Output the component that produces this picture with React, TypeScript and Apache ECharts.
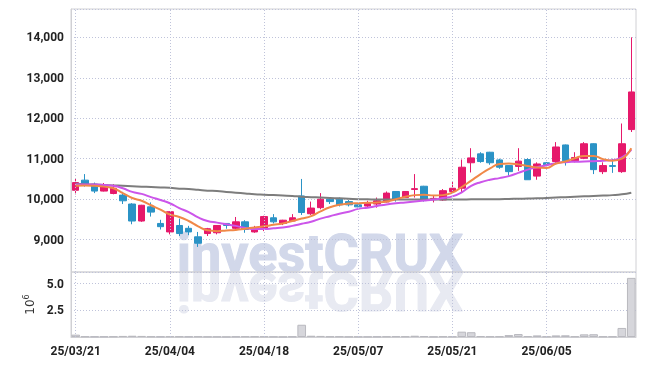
import React, { useEffect, useRef } from 'react';
import * as echarts from 'echarts';

const dates = [
  '25/03/21', '25/03/24', '25/03/25', '25/03/26', '25/03/27', '25/03/28', '25/03/31', '25/04/01', '25/04/02', '25/04/03',
  '25/04/04', '25/04/07', '25/04/08', '25/04/09', '25/04/10', '25/04/11', '25/04/14', '25/04/15', '25/04/16', '25/04/17',
  '25/04/18', '25/04/21', '25/04/22', '25/04/23', '25/04/24', '25/04/25', '25/04/28', '25/04/29', '25/04/30', '25/05/02',
  '25/05/07', '25/05/08', '25/05/09', '25/05/12', '25/05/13', '25/05/14', '25/05/15', '25/05/16', '25/05/19', '25/05/20',
  '25/05/21', '25/05/22', '25/05/23', '25/05/26', '25/05/27', '25/05/28', '25/05/29', '25/05/30', '25/06/02', '25/06/04',
  '25/06/05', '25/06/09', '25/06/10', '25/06/11', '25/06/12', '25/06/13', '25/06/16', '25/06/17', '25/06/18', '25/06/19',
];

const opens = [
  10220, 10470, 10370, 10200, 10140, 10100, 9880, 9460, 9810, 9400,
  9190, 9350, 9280, 9070, 9150, 9170, 9400, 9280, 9440, 9190,
  9270, 9540, 9400, 9460, 10080, 9640, 9790, 10000, 10000, 9940,
  9860, 9830, 9880, 9930, 10190, 10040, 10240, 10320, 10010, 9980,
  10190, 10270, 10900, 11120, 11160, 10970, 10830, 10810, 10980, 10570,
  10900, 10930, 11340, 10950, 11010, 11370, 10680, 10830, 10680, 11720,
];
const closes = [
  10410, 10370, 10200, 10350, 10270, 9960, 9460, 9850, 9680, 9320,
  9690, 9150, 9190, 8910, 9270, 9350, 9350, 9440, 9250, 9300,
  9570, 9440, 9480, 9540, 9670, 9780, 10000, 9940, 9860, 9860,
  9810, 9900, 9960, 10150, 10000, 10190, 10260, 10000, 10020, 10210,
  10270, 10790, 11020, 10930, 10900, 10790, 10680, 10940, 10480, 10870,
  10850, 11290, 10950, 11030, 11370, 10730, 10830, 10810, 11370, 12650,
];
const lows = [
  10120, 10310, 10150, 10190, 10120, 9880, 9380, 9440, 9570, 9250,
  9130, 9090, 9110, 8820, 9090, 9130, 9270, 9250, 9170, 9170,
  9210, 9400, 9360, 9440, 9610, 9610, 9750, 9880, 9820, 9820,
  9800, 9790, 9790, 9920, 9940, 10030, 10040, 9940, 9920, 9960,
  10170, 10170, 10660, 10900, 10850, 10750, 10580, 10700, 10480, 10480,
  10820, 10870, 10830, 10910, 10990, 10620, 10620, 10650, 10650, 11660,
];
const highs = [
  10500, 10620, 10410, 10400, 10370, 10180, 9900, 9860, 9920, 9490,
  9700, 9520, 9340, 9190, 9290, 9360, 9410, 9560, 9480, 9340,
  9590, 9630, 9490, 9630, 10500, 9940, 10150, 10010, 10040, 9980,
  9870, 9960, 10040, 10190, 10200, 10200, 10620, 10330, 10080, 10250,
  10430, 10980, 11260, 11160, 11170, 11000, 10840, 11260, 11010, 10910,
  10920, 11410, 11350, 11160, 11410, 11380, 10910, 11000, 11870, 14000,
];
const volumes = [
  220000, 50000, 40000, 40000, 50000, 100000, 120000, 100000, 50000, 40000,
  60000, 50000, 40000, 50000, 30000, 30000, 20000, 40000, 50000, 50000,
  50000, 30000, 20000, 40000, 1150000, 120000, 100000, 50000, 50000, 30000,
  30000, 30000, 40000, 50000, 70000, 60000, 120000, 80000, 30000, 60000,
  50000, 500000, 450000, 80000, 50000, 60000, 180000, 280000, 80000, 150000,
  50000, 150000, 160000, 60000, 250000, 260000, 50000, 50000, 850000, 5550000,
];
const maShort = [
  10330, 10340, 10330, 10310, 10270, 10150, 10030, 9960, 9850, 9740,
  9620, 9560, 9460, 9330, 9230, 9210, 9225, 9240, 9270, 9300,
  9330, 9365, 9400, 9460, 9520, 9580, 9700, 9800, 9860, 9890,
  9900, 9910, 9920, 9940, 10000, 10060, 10100, 10110, 10090, 10100,
  10160, 10300, 10460, 10620, 10760, 10870, 10880, 10860, 10820, 10780,
  10770, 10880, 10930, 11010, 11070, 11070, 10990, 10950, 11000, 11260,
];
const maMid = [
  10360, 10360, 10360, 10350, 10330, 10270, 10180, 10130, 10050, 9980,
  9900, 9780, 9680, 9550, 9460, 9420, 9380, 9340, 9290, 9260,
  9260, 9280, 9300, 9340, 9390, 9440, 9520, 9580, 9640, 9690,
  9760, 9790, 9830, 9870, 9900, 9920, 9945, 9965, 9990, 10030,
  10070, 10170, 10330, 10420, 10480, 10520, 10570, 10650, 10730, 10790,
  10840, 10890, 10915, 10925, 10930, 10940, 10950, 10965, 11030, 11220,
];
const maLong = [
  10380, 10370, 10360, 10350, 10340, 10330, 10320, 10310, 10300, 10290,
  10280, 10260, 10250, 10230, 10210, 10200, 10180, 10160, 10140, 10120,
  10110, 10100, 10090, 10080, 10060, 10050, 10040, 10030, 10020, 10010,
  10000, 9995, 9990, 9990, 9990, 9990, 9990, 9990, 9990, 9990,
  9990, 9990, 9995, 9995, 10000, 10000, 10005, 10010, 10015, 10020,
  10030, 10040, 10050, 10060, 10070, 10080, 10090, 10100, 10120, 10160,
];

const UP = '#e6196b';
const DOWN = '#2b93c6';
const GRID_DOT = { type: [1, 2] as number[], color: '#bfc3da', width: 1 };
const BORDER = '#d0d0d4';
const LABEL = { color: '#222222', fontFamily: 'Roboto', fontSize: 12, fontWeight: 'bold' as const };
const WM_FONT = 'bold 54px Roboto';

export default function App() {
  const ref = useRef<HTMLDivElement>(null);
  useEffect(() => {
    if (!ref.current) return;
    const chart = echarts.init(ref.current, undefined, { renderer: 'svg' });
    const candles = dates.map((_, i) => [opens[i], closes[i], lows[i], highs[i]]);
    const vLines = dates.filter((_, i) => i % 10 === 0).map((d) => ({ xAxis: d }));
    const markLine = {
      silent: true,
      symbol: ['none', 'none'],
      label: { show: false },
      lineStyle: { ...GRID_DOT },
      data: vLines,
    };
    const maLine = (name: string, data: number[], color: string) => ({
      name,
      type: 'line',
      xAxisIndex: 0,
      yAxisIndex: 0,
      data,
      smooth: true,
      showSymbol: false,
      symbol: 'none',
      lineStyle: { color, width: 2 },
      z: 3,
    });
    chart.setOption({
      animation: false,
      graphic: [
        {
          type: 'text',
          x: 320,
          y: 253,
          z: -10,
          silent: true,
          style: {
            text: 'investCRUX',
            font: WM_FONT,
            fill: '#d2d8ea',
            stroke: '#d2d8ea',
            lineWidth: 1,
            textAlign: 'center',
            textVerticalAlign: 'middle',
          },
        },
        {
          type: 'group',
          x: 320,
          y: 272,
          scaleY: -1,
          z: -10,
          silent: true,
          children: [
            {
              type: 'text',
              x: 0,
              y: -19,
              z: -10,
              style: {
                text: 'investCRUX',
                font: WM_FONT,
                fill: '#e8eaf2',
                stroke: '#e8eaf2',
                lineWidth: 1,
                textAlign: 'center',
                textVerticalAlign: 'middle',
              },
            },
          ],
        },
      ],
      grid: [
        { left: 71, right: 9, top: 9, height: 263, show: true, borderColor: BORDER, borderWidth: 1 },
        { left: 71, right: 9, top: 272, height: 65, show: true, borderColor: BORDER, borderWidth: 1 },
      ],
      xAxis: [
        {
          type: 'category',
          gridIndex: 0,
          data: dates,
          boundaryGap: true,
          axisLine: { show: false },
          axisTick: { show: false },
          axisLabel: { show: false },
          splitLine: { show: false },
        },
        {
          type: 'category',
          gridIndex: 1,
          data: dates,
          boundaryGap: true,
          axisLine: { show: true, lineStyle: { color: BORDER } },
          axisTick: { show: false },
          axisLabel: { ...LABEL, interval: 9, margin: 8 },
          splitLine: { show: false },
        },
      ],
      yAxis: [
        {
          type: 'value',
          gridIndex: 0,
          min: 8200,
          max: 14700,
          splitNumber: 6,
          axisLine: { show: true, lineStyle: { color: BORDER } },
          axisTick: { show: false },
          axisLabel: {
            ...LABEL,
            showMinLabel: false,
            showMaxLabel: false,
            margin: 7,
            formatter: (v: number) => v.toLocaleString('en-US'),
          },
          splitLine: { show: true, lineStyle: { ...GRID_DOT } },
        },
        {
          type: 'value',
          gridIndex: 1,
          min: 0,
          max: 6100000,
          interval: 2500000,
          name: '10{s|6}',
          nameLocation: 'middle',
          nameRotate: 90,
          nameGap: 30,
          nameTextStyle: {
            color: '#333',
            fontFamily: 'DejaVu Sans',
            fontSize: 12,
            rich: { s: { fontSize: 8, verticalAlign: 'top', fontFamily: 'DejaVu Sans', color: '#333', padding: [0, 0, 6, 0] } },
          },
          axisLine: { show: true, lineStyle: { color: BORDER } },
          axisTick: { show: false },
          axisLabel: {
            ...LABEL,
            showMinLabel: false,
            showMaxLabel: false,
            margin: 7,
            formatter: (v: number) => (v / 1000000).toFixed(1),
          },
          splitLine: { show: true, lineStyle: { ...GRID_DOT } },
        },
      ],
      series: [
        { type: 'line', xAxisIndex: 0, yAxisIndex: 0, data: [], z: 1, markLine },
        { type: 'line', xAxisIndex: 1, yAxisIndex: 1, data: [], z: 1, markLine },
        {
          type: 'candlestick',
          xAxisIndex: 0,
          yAxisIndex: 0,
          data: candles,
          barWidth: 7,
          itemStyle: { color: UP, color0: DOWN, borderColor: UP, borderColor0: DOWN, borderWidth: 1 },
          z: 2,
        },
        maLine('long', maLong, '#7d7d7d'),
        maLine('mid', maMid, '#cc55ea'),
        maLine('short', maShort, '#f08848'),
        {
          type: 'bar',
          xAxisIndex: 1,
          yAxisIndex: 1,
          data: volumes,
          barWidth: '92%',
          itemStyle: { color: '#d6d6db', borderColor: '#b9b9bf', borderWidth: 1 },
          z: 2,
        },
      ],
    });
    return () => chart.dispose();
  }, []);
  return <div ref={ref} style={{ position: 'fixed', left: 0, top: 0, width: 645, height: 366 }} />;
}
